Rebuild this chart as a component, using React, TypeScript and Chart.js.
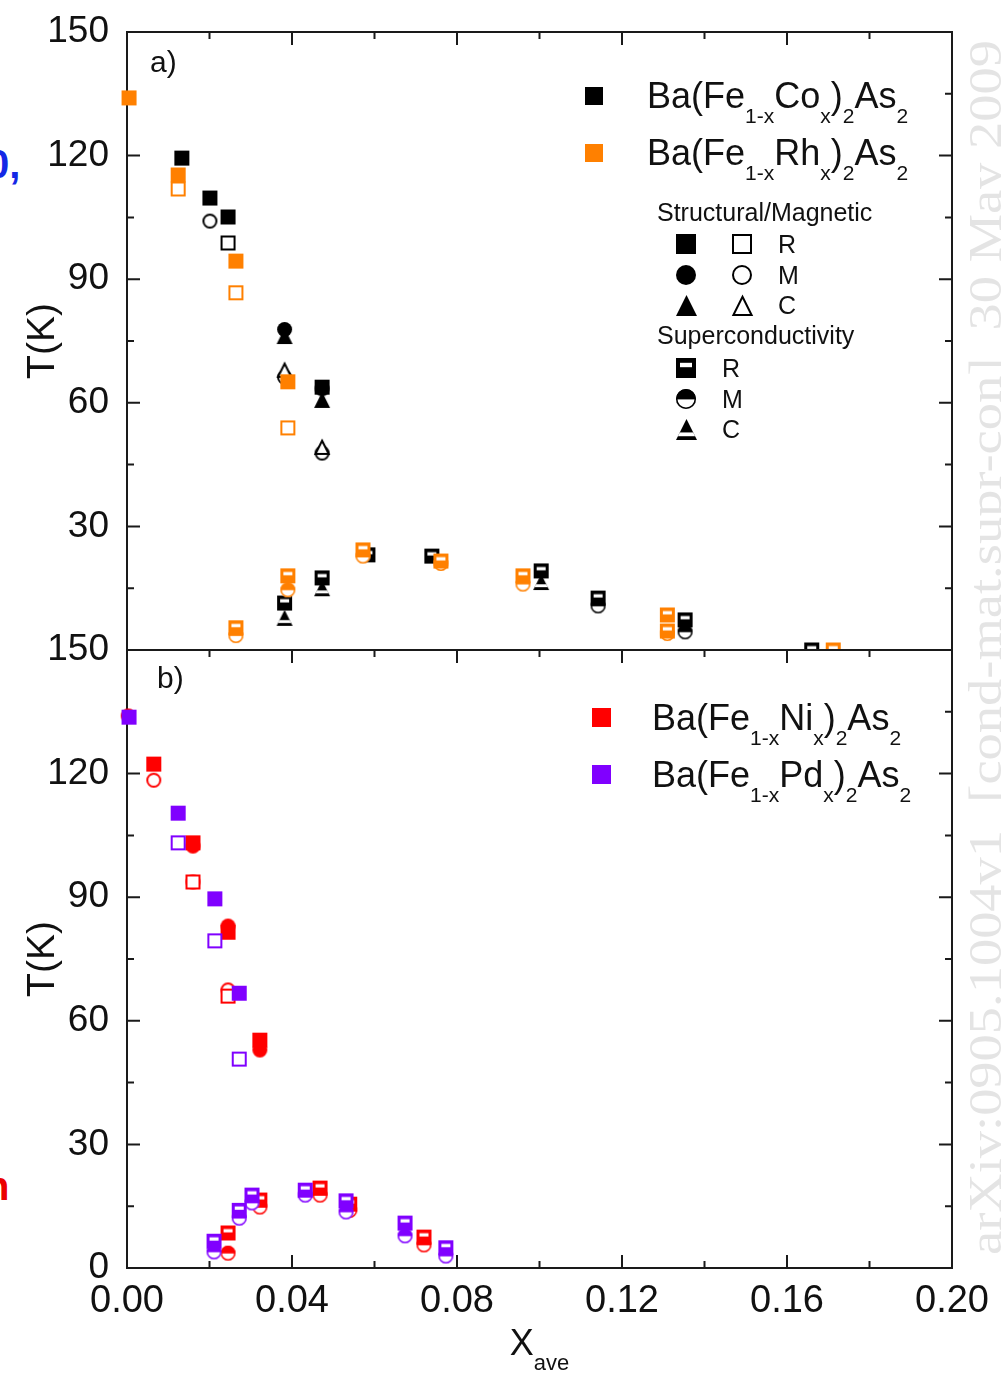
import React, { useEffect, useRef } from 'react';
import { Chart, registerables } from 'chart.js';

Chart.register(...registerables);

const FONT = "'Liberation Sans', Arial, Helvetica, sans-serif";
const AXIS = '#1a1a1a';
const TEXT = '#111111';

const BLACK = '#000000';
const ORANGE = '#ff8000';
const RED = '#ff0000';
const PURPLE = '#8000ff';

// axis ticks
const xMajorTicks = [0, 0.04, 0.08, 0.12, 0.16, 0.2];
const xMinorTicks = [0.02, 0.06, 0.1, 0.14, 0.18];
const yMajorTicks = [0, 30, 60, 90, 120, 150];
const yMinorTicks = [15, 45, 75, 105, 135];

type Pt = [number, number];

// ---- panel a) Ba(Fe1-xCox)2As2 (black) ----
const coStructR: Pt[] = [[0.0133, 119.4], [0.0201, 109.7], [0.0245, 105.1], [0.0473, 63.8]];
const coStructM: Pt[] = [[0.0382, 77.8], [0.0473, 63.4]];
const coStructC: Pt[] = [[0.0382, 76.2], [0.0473, 60.7]];
const coMagR: Pt[] = [[0.0245, 98.8]];
const coMagM: Pt[] = [[0.0201, 104.1], [0.0382, 66.2], [0.0473, 47.8]];
const coMagC: Pt[] = [[0.0382, 68.0], [0.0473, 49.3]];
const coScR: Pt[] = [[0.0382, 11.4], [0.0473, 17.5], [0.0584, 23.1], [0.0739, 22.8], [0.1004, 19.2], [0.1142, 12.6], [0.1353, 7.3], [0.166, 0]];
const coScM: Pt[] = [[0.1142, 10.7], [0.1353, 4.4]];
const coScC: Pt[] = [[0.0382, 7.8], [0.0473, 15.0], [0.1004, 16.5]];

// ---- panel a) Ba(Fe1-xRhx)2As2 (orange) ----
const rhStructR: Pt[] = [[0.0005, 134], [0.0124, 115.3], [0.0264, 94.4], [0.039, 65.1]];
const rhMagR: Pt[] = [[0.0124, 111.9], [0.0264, 86.7], [0.039, 53.9]];
const rhScR: Pt[] = [[0.0264, 5.4], [0.039, 18.0], [0.0572, 24.3], [0.0761, 21.6], [0.096, 18.0], [0.131, 8.5], [0.131, 4.6], [0.1712, 0]];
const rhScM: Pt[] = [[0.0264, 3.5], [0.039, 14.6], [0.0572, 22.8], [0.0761, 21.0], [0.096, 16.0], [0.131, 4.0]];

// ---- panel b) Ba(Fe1-xNix)2As2 (red) ----
const niStructR: Pt[] = [[0.0065, 122.3], [0.016, 103.2], [0.0245, 81.5], [0.0322, 55.3]];
const niStructM: Pt[] = [[0.016, 102.4], [0.0245, 83.0], [0.0322, 52.9]];
const niMagR: Pt[] = [[0.016, 93.7], [0.0245, 66.0]];
const niMagM: Pt[] = [[0.0003, 134], [0.0065, 118.4], [0.016, 93.7], [0.0245, 67.5]];
const niScR: Pt[] = [[0.0245, 8.5], [0.0322, 16.5], [0.0468, 19.4], [0.054, 15.5], [0.072, 7.5]];
const niScM: Pt[] = [[0.0245, 3.6], [0.0322, 14.8], [0.0468, 17.7], [0.054, 14.0], [0.072, 5.6]];

// ---- panel b) Ba(Fe1-xPdx)2As2 (purple) ----
const pdStructR: Pt[] = [[0.0005, 133.7], [0.0124, 110.4], [0.0213, 89.6], [0.0272, 66.7]];
const pdMagR: Pt[] = [[0.0124, 103.2], [0.0213, 79.4], [0.0272, 50.7]];
const pdScR: Pt[] = [[0.0211, 6.5], [0.0272, 14.0], [0.0303, 17.7], [0.0432, 18.9], [0.0531, 16.3], [0.0674, 10.9], [0.0773, 4.9]];
const pdScM: Pt[] = [[0.0211, 3.9], [0.0272, 12.1], [0.0303, 15.8], [0.0432, 17.7], [0.0531, 13.6], [0.0674, 7.8], [0.0773, 2.9]];

// legend formulas: [text, isSubscript]
type Part = [string, boolean];
const coLabel: Part[] = [['Ba(Fe', false], ['1-x', true], ['Co', false], ['x', true], [')', false], ['2', true], ['As', false], ['2', true]];
const rhLabel: Part[] = [['Ba(Fe', false], ['1-x', true], ['Rh', false], ['x', true], [')', false], ['2', true], ['As', false], ['2', true]];
const niLabel: Part[] = [['Ba(Fe', false], ['1-x', true], ['Ni', false], ['x', true], [')', false], ['2', true], ['As', false], ['2', true]];
const pdLabel: Part[] = [['Ba(Fe', false], ['1-x', true], ['Pd', false], ['x', true], [')', false], ['2', true], ['As', false], ['2', true]];
const methodLabels = ['R', 'M', 'C'];
const watermark = 'arXiv:0905.1004v1  [cond-mat.supr-con]  30 May 2009';

type Shape = 'square' | 'circle' | 'triangle';
type Fill = 'solid' | 'open' | 'half';

function makeMarker(shape: Shape, fill: Fill, color: string, s: number): HTMLCanvasElement {
  const pad = 2;
  const c = document.createElement('canvas');
  c.width = s + 2 * pad;
  c.height = s + 2 * pad;
  const g = c.getContext('2d') as CanvasRenderingContext2D;
  g.translate(pad, pad);
  const path = (i: number) => {
    g.beginPath();
    if (shape === 'square') g.rect(i, i, s - 2 * i, s - 2 * i);
    else if (shape === 'circle') g.arc(s / 2, s / 2, s / 2 - i, 0, Math.PI * 2);
    else {
      g.moveTo(s / 2, i * 1.8);
      g.lineTo(s - i * 1.4, s - i);
      g.lineTo(i * 1.4, s - i);
      g.closePath();
    }
  };
  if (fill === 'solid') {
    path(0);
    g.fillStyle = color;
    g.fill();
  } else if (fill === 'open') {
    path(1);
    g.fillStyle = '#ffffff';
    g.fill();
    g.lineWidth = 2;
    g.strokeStyle = color;
    g.stroke();
  } else {
    path(0);
    g.fillStyle = color;
    g.fill();
    g.save();
    path(0);
    g.clip();
    g.fillStyle = '#ffffff';
    if (shape === 'square') g.fillRect(s * 0.2, s * 0.24, s * 0.6, s * 0.22);
    else if (shape === 'circle') g.fillRect(0, s * 0.52, s, s);
    else g.fillRect(0, s * 0.64, s, s * 0.18);
    g.restore();
    if (shape === 'circle') {
      path(0.75);
      g.lineWidth = 1.5;
      g.strokeStyle = color;
      g.stroke();
    }
  }
  return c;
}

function ds(data: Pt[], style: HTMLCanvasElement) {
  return {
    data: data.map(([x, y]) => ({ x, y })),
    pointStyle: style,
    pointRadius: 8,
    pointHoverRadius: 8,
    showLine: false,
    clip: { left: 20, top: 20, right: 20, bottom: 0 },
  };
}

function drawFormula(ctx: CanvasRenderingContext2D, x: number, y: number, parts: Part[]) {
  for (const [t, sub] of parts) {
    ctx.font = `${sub ? 21 : 36}px ${FONT}`;
    ctx.fillText(t, x, sub ? y + 15 : y);
    x += ctx.measureText(t).width;
  }
}

function drawImg(ctx: CanvasRenderingContext2D, img: HTMLCanvasElement, cx: number, cy: number) {
  ctx.drawImage(img, Math.round(cx - img.width / 2), Math.round(cy - img.height / 2));
}

function framePlugin(bottomTicks: boolean) {
  return {
    id: 'frameTicks',
    beforeDatasetsDraw(chart: any) {
      const { ctx, chartArea: a, scales } = chart;
      const xs = scales.x;
      const ys = scales.y;
      ctx.save();
      ctx.strokeStyle = AXIS;
      ctx.lineWidth = 2;
      ctx.strokeRect(a.left, a.top, a.right - a.left, a.bottom - a.top);
      ctx.beginPath();
      const xt = (vals: number[], len: number) => {
        vals.forEach((v) => {
          const p = xs.getPixelForValue(v);
          ctx.moveTo(p, a.top);
          ctx.lineTo(p, a.top + len);
          if (bottomTicks) {
            ctx.moveTo(p, a.bottom);
            ctx.lineTo(p, a.bottom - len);
          }
        });
      };
      const yt = (vals: number[], len: number) => {
        vals.forEach((v) => {
          const p = ys.getPixelForValue(v);
          ctx.moveTo(a.left, p);
          ctx.lineTo(a.left + len, p);
          ctx.moveTo(a.right, p);
          ctx.lineTo(a.right - len, p);
        });
      };
      xt(xMajorTicks, 13);
      xt(xMinorTicks, 7);
      yt(yMajorTicks, 13);
      yt(yMinorTicks, 7);
      ctx.stroke();
      ctx.restore();
    },
  };
}

function buildMarkers() {
  const set = (color: string, s: number) => ({
    sqS: makeMarker('square', 'solid', color, s),
    sqO: makeMarker('square', 'open', color, s),
    sqH: makeMarker('square', 'half', color, s),
    ciS: makeMarker('circle', 'solid', color, s),
    ciO: makeMarker('circle', 'open', color, s),
    ciH: makeMarker('circle', 'half', color, s),
    trS: makeMarker('triangle', 'solid', color, s + 1),
    trO: makeMarker('triangle', 'open', color, s + 1),
    trH: makeMarker('triangle', 'half', color, s + 1),
  });
  return {
    black: set(BLACK, 15),
    orange: set(ORANGE, 15),
    red: set(RED, 15),
    purple: set(PURPLE, 15),
    legend: set(BLACK, 20),
    keyBlack: makeMarker('square', 'solid', BLACK, 18),
    keyOrange: makeMarker('square', 'solid', ORANGE, 18),
    keyRed: makeMarker('square', 'solid', RED, 19),
    keyPurple: makeMarker('square', 'solid', PURPLE, 19),
  };
}

type Markers = ReturnType<typeof buildMarkers>;

function panelConfig(panel: 'a' | 'b', m: Markers): any {
  const isTop = panel === 'a';
  const datasets = isTop
    ? [
        ds(rhScR, m.orange.sqH),
        ds(rhScM, m.orange.ciH),
        ds(rhStructR, m.orange.sqS),
        ds(rhMagR, m.orange.sqO),
        ds(coScR, m.black.sqH),
        ds(coScM, m.black.ciH),
        ds(coScC, m.black.trH),
        ds(coStructR, m.black.sqS),
        ds(coStructM, m.black.ciS),
        ds(coStructC, m.black.trS),
        ds(coMagR, m.black.sqO),
        ds(coMagC, m.black.trO),
        ds(coMagM, m.black.ciO),
      ]
    : [
        ds(pdScR, m.purple.sqH),
        ds(pdScM, m.purple.ciH),
        ds(pdStructR, m.purple.sqS),
        ds(pdMagR, m.purple.sqO),
        ds(niScR, m.red.sqH),
        ds(niScM, m.red.ciH),
        ds(niStructR, m.red.sqS),
        ds(niStructM, m.red.ciS),
        ds(niMagR, m.red.sqO),
        ds(niMagM, m.red.ciO),
      ];

  const textPlugin = {
    id: 'panelText',
    afterDraw(chart: any) {
      const ctx: CanvasRenderingContext2D = chart.ctx;
      ctx.save();
      ctx.fillStyle = TEXT;
      ctx.textAlign = 'left';
      ctx.textBaseline = 'alphabetic';
      if (isTop) {
        ctx.font = `30px ${FONT}`;
        ctx.fillText('a)', 150, 72);
        drawImg(ctx, m.keyBlack, 594, 96);
        drawFormula(ctx, 647, 108, coLabel);
        drawImg(ctx, m.keyOrange, 594, 153);
        drawFormula(ctx, 647, 165, rhLabel);

        ctx.font = `25px ${FONT}`;
        ctx.fillText('Structural/Magnetic', 657, 221);
        const rows = [244, 275, 305];
        const solid = [m.legend.sqS, m.legend.ciS, m.legend.trS];
        const open = [m.legend.sqO, m.legend.ciO, m.legend.trO];
        rows.forEach((y, i) => {
          drawImg(ctx, solid[i], 686, y);
          drawImg(ctx, open[i], 742, y);
          ctx.fillText(methodLabels[i], 778, y + 9);
        });
        ctx.fillText('Superconductivity', 657, 344);
        const scRows = [368, 399, 429];
        const half = [m.legend.sqH, m.legend.ciH, m.legend.trH];
        scRows.forEach((y, i) => {
          drawImg(ctx, half[i], 686, y);
          ctx.fillText(methodLabels[i], 722, y + 9);
        });

        // faint vertical watermark on the right margin
        ctx.save();
        ctx.fillStyle = 'rgba(120,120,120,0.2)';
        ctx.font = `46px 'Liberation Serif', 'Times New Roman', serif`;
        const w = ctx.measureText(watermark).width;
        ctx.translate(1001, 1255);
        ctx.rotate(-Math.PI / 2);
        ctx.scale(1215 / w, 1);
        ctx.fillText(watermark, 0, 0);
        ctx.restore();
      } else {
        ctx.font = `30px ${FONT}`;
        ctx.fillText('b)', 157, 688);
        drawImg(ctx, m.keyRed, 601, 717);
        drawFormula(ctx, 652, 730, niLabel);
        drawImg(ctx, m.keyPurple, 601, 774);
        drawFormula(ctx, 652, 787, pdLabel);

        // x-axis title with subscript
        ctx.font = `36px ${FONT}`;
        const wX = ctx.measureText('X').width;
        ctx.font = `22px ${FONT}`;
        const wA = ctx.measureText('ave').width;
        const x0 = (chart.chartArea.left + chart.chartArea.right) / 2 - (wX + wA) / 2;
        ctx.font = `36px ${FONT}`;
        ctx.fillText('X', x0, 1355);
        ctx.font = `22px ${FONT}`;
        ctx.fillText('ave', x0 + wX, 1370);
      }
      ctx.restore();
    },
  };

  return {
    type: 'scatter',
    data: { datasets },
    options: {
      responsive: false,
      maintainAspectRatio: false,
      animation: false,
      devicePixelRatio: 1,
      events: [],
      layout: {
        padding: isTop
          ? { left: 0, right: 49, top: 32, bottom: 1382 - 650 }
          : { left: 0, right: 49, top: 650, bottom: 44 },
      },
      plugins: { legend: { display: false }, tooltip: { enabled: false } },
      scales: {
        x: {
          type: 'linear',
          min: 0,
          max: 0.2,
          grid: { display: false, drawTicks: false },
          border: { display: false },
          afterBuildTicks: (s: any) => {
            s.ticks = xMajorTicks.map((v) => ({ value: v }));
          },
          ticks: {
            display: !isTop,
            autoSkip: false,
            maxRotation: 0,
            padding: 11,
            color: TEXT,
            font: { family: FONT, size: 38 },
            callback: (v: any) => Number(v).toFixed(2),
          },
          afterFit: (s: any) => {
            s.height = isTop ? 0 : 70;
            s.paddingLeft = 0;
            s.paddingRight = 0;
          },
        },
        y: {
          type: 'linear',
          min: 0,
          max: 150,
          grid: { display: false, drawTicks: false },
          border: { display: false },
          afterBuildTicks: (s: any) => {
            s.ticks = yMajorTicks.map((v) => ({ value: v }));
          },
          ticks: {
            autoSkip: false,
            padding: 18,
            color: TEXT,
            font: { family: FONT, size: 37 },
            callback: (v: any) => (isTop && Number(v) === 0 ? '' : String(v)),
          },
          title: {
            display: true,
            text: 'T(K)',
            color: TEXT,
            font: { family: FONT, size: 39 },
            padding: { top: 20, bottom: 0 },
          },
          afterFit: (s: any) => {
            s.width = 127;
            s.paddingTop = 0;
            s.paddingBottom = 0;
          },
        },
      },
    },
    plugins: [framePlugin(!isTop), textPlugin],
  };
}

// nudge the layout padding until the plot area sits exactly on the wanted box
function fitArea(chart: any, t: { left: number; right: number; top: number; bottom: number }) {
  for (let i = 0; i < 4; i++) {
    const a = chart.chartArea;
    const p = chart.config.options.layout.padding;
    const dl = t.left - a.left;
    const dr = a.right - t.right;
    const dt = t.top - a.top;
    const db = a.bottom - t.bottom;
    if (Math.max(Math.abs(dl), Math.abs(dr), Math.abs(dt), Math.abs(db)) < 0.5) break;
    chart.config.options.layout.padding = {
      left: p.left + dl,
      right: p.right + dr,
      top: p.top + dt,
      bottom: p.bottom + db,
    };
    chart.update();
  }
}

export default function App() {
  const topRef = useRef<HTMLCanvasElement>(null);
  const botRef = useRef<HTMLCanvasElement>(null);

  useEffect(() => {
    const m = buildMarkers();
    const c1 = new Chart(topRef.current as HTMLCanvasElement, panelConfig('a', m));
    const c2 = new Chart(botRef.current as HTMLCanvasElement, panelConfig('b', m));
    fitArea(c1, { left: 127, right: 952, top: 32, bottom: 650 });
    fitArea(c2, { left: 127, right: 952, top: 650, bottom: 1268 });
    return () => {
      c1.destroy();
      c2.destroy();
    };
  }, []);

  const canvasStyle: React.CSSProperties = { position: 'absolute', left: 0, top: 0 };
  return (
    <div
      style={{
        position: 'absolute',
        left: 0,
        top: 0,
        width: 1001,
        height: 1382,
        background: '#ffffff',
        overflow: 'hidden',
      }}
    >
      <div
        style={{
          position: 'absolute',
          left: -13,
          top: 144,
          font: `bold 40px ${FONT}`,
          lineHeight: '40px',
          color: 'rgb(20,40,230)',
          whiteSpace: 'nowrap',
        }}
      >
        0,
      </div>
      <div
        style={{
          position: 'absolute',
          left: -15,
          top: 1166,
          font: `bold 40px ${FONT}`,
          lineHeight: '40px',
          color: 'rgb(235,0,0)',
          whiteSpace: 'nowrap',
        }}
      >
        n
      </div>
      <canvas ref={topRef} width={1001} height={1382} style={canvasStyle} />
      <canvas ref={botRef} width={1001} height={1382} style={canvasStyle} />
    </div>
  );
}
